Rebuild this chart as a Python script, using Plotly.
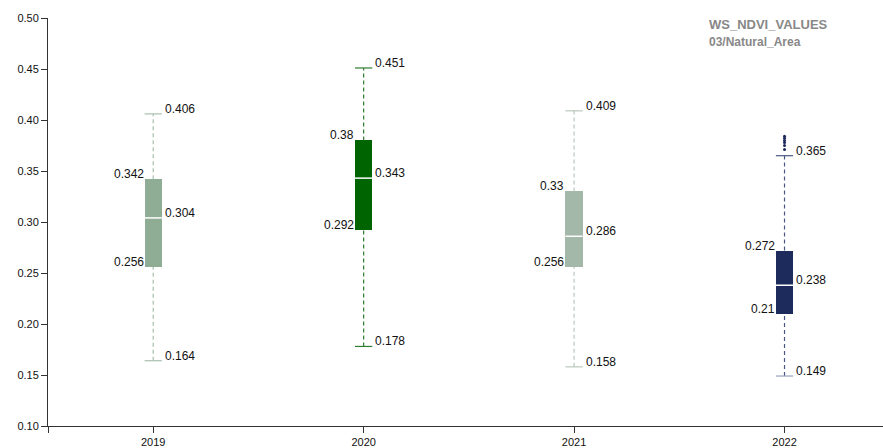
import plotly.graph_objects as go

# NDVI box statistics per year
years = ["2019", "2020", "2021", "2022"]
lower = [0.164, 0.178, 0.158, 0.149]
q1 = [0.256, 0.292, 0.256, 0.21]
median = [0.304, 0.343, 0.286, 0.238]
q3 = [0.342, 0.38, 0.33, 0.272]
upper = [0.406, 0.451, 0.409, 0.365]
outliers_2022 = [0.384, 0.382, 0.380, 0.378, 0.375, 0.371]

box_colors = ["#8fac94", "#006400", "#a4b8a9", "#1c2a5c"]
whisker_colors = ["#a9bfae", "#2f7d2f", "#b9c8bc", "#4a5784"]
lower_cap_colors = ["#a9bfae", "#2f7d2f", "#b9c8bc", "#9aa2bd"]

pos = list(range(len(years)))
half = 0.041  # half box width in category units
font = "Liberation Sans, Arial, Helvetica, sans-serif"

fig = go.Figure()

# boxes
fig.add_trace(go.Bar(
    x=pos, y=[b - a for a, b in zip(q1, q3)], base=q1, width=2 * half,
    marker=dict(color=box_colors, line=dict(width=0)),
    hoverinfo="skip", showlegend=False,
))

for i, p in enumerate(pos):
    # dashed whiskers
    fig.add_trace(go.Scatter(
        x=[p, p, None, p, p], y=[lower[i], q1[i], None, q3[i], upper[i]],
        mode="lines", line=dict(color=whisker_colors[i], width=1.2, dash="4px,3px"),
        hoverinfo="skip", showlegend=False,
    ))
    # caps
    fig.add_trace(go.Scatter(
        x=[p - half, p + half], y=[upper[i], upper[i]],
        mode="lines", line=dict(color=whisker_colors[i], width=1.2),
        hoverinfo="skip", showlegend=False,
    ))
    fig.add_trace(go.Scatter(
        x=[p - half, p + half], y=[lower[i], lower[i]],
        mode="lines", line=dict(color=lower_cap_colors[i], width=1.2),
        hoverinfo="skip", showlegend=False,
    ))
    # median
    fig.add_trace(go.Scatter(
        x=[p - half, p + half], y=[median[i], median[i]],
        mode="lines", line=dict(color="white", width=1.5),
        hoverinfo="skip", showlegend=False,
    ))

# outliers
fig.add_trace(go.Scatter(
    x=[3] * len(outliers_2022), y=outliers_2022, mode="markers",
    marker=dict(color=box_colors[3], size=3),
    hoverinfo="skip", showlegend=False,
))

annotations = []
lab_font = dict(family=font, size=12, color="#111")
for i, p in enumerate(pos):
    for v in (q3[i], q1[i]):
        annotations.append(dict(x=p - half, y=v, text=f"{v:g}", showarrow=False,
                                xanchor="right", yanchor="middle", yshift=5, xshift=1,
                                font=lab_font))
    for v in (median[i], upper[i], lower[i]):
        annotations.append(dict(x=p + half, y=v, text=f"{v:g}", showarrow=False,
                                xanchor="left", yanchor="middle", yshift=5, xshift=1,
                                font=lab_font))

annotations.append(dict(xref="paper", yref="paper", x=0.789, y=0.985,
                        text="<b>WS_NDVI_VALUES</b>", showarrow=False,
                        xanchor="left", yanchor="middle",
                        font=dict(family=font, size=13, color="#888")))
annotations.append(dict(xref="paper", yref="paper", x=0.789, y=0.94,
                        text="<b>03/Natural_Area</b>", showarrow=False,
                        xanchor="left", yanchor="middle",
                        font=dict(family=font, size=12, color="#888")))

fig.update_layout(
    width=883, height=448,
    margin=dict(l=48, r=0, t=18, b=19),
    paper_bgcolor="white", plot_bgcolor="white",
    annotations=annotations,
    bargap=0,
    xaxis=dict(
        range=[-0.5, 3.468], tickvals=[-0.5] + pos, ticktext=[""] + years,
        showgrid=False, zeroline=False, showline=True, linecolor="#333", linewidth=1,
        ticks="outside", ticklen=6, tickcolor="#333",
        tickfont=dict(family=font, size=11, color="#111"),
    ),
    yaxis=dict(
        range=[0.1, 0.5], tickvals=[0.1, 0.15, 0.2, 0.25, 0.3, 0.35, 0.4, 0.45, 0.5],
        tickformat=".2f",
        showgrid=False, zeroline=False, showline=True, linecolor="#333", linewidth=1,
        ticks="outside", ticklen=6, tickcolor="#333",
        tickfont=dict(family=font, size=11, color="#111"),
    ),
)

fig.write_html("out.html")
